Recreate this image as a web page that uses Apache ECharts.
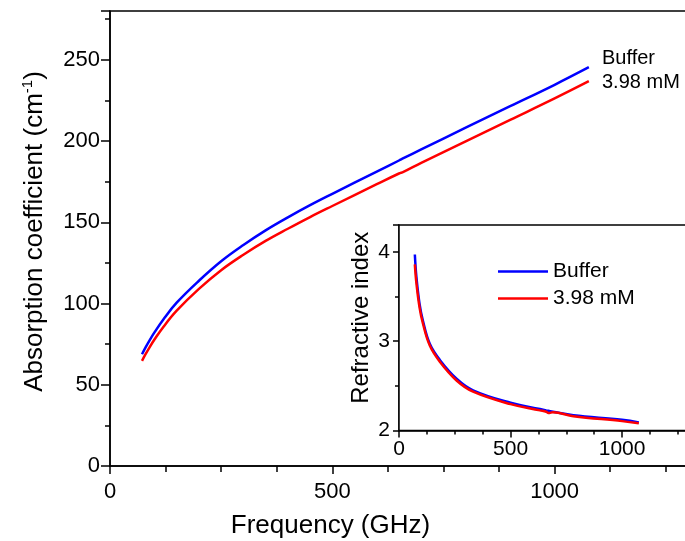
<!DOCTYPE html>
<html>
<head>
<meta charset="utf-8">
<script src="https://cdn.jsdelivr.net/npm/echarts@6/dist/echarts.min.js"></script>
<style>
html,body{margin:0;padding:0;background:#fff;}
#c{width:685px;height:541px;}
</style>
</head>
<body>
<div id="c"></div>
<script>
// ---- Main panel: absorption coefficient (cm^-1) vs frequency (GHz)
var absFreq = [72, 80, 90, 100, 120, 150, 200, 250, 300, 350, 400, 450, 500, 600, 650, 660, 700, 800, 900, 1000, 1077];
var absBuffer = [68.8, 73.0, 77.8, 82.2, 90.2, 100.5, 114.0, 126.0, 136.0, 145.0, 153.0, 160.5, 167.5, 181.2, 188.0, 189.4, 194.8, 208.2, 221.4, 234.6, 245.4];
var absSample = [64.7, 68.8, 73.5, 77.8, 85.6, 95.6, 109.0, 120.5, 130.0, 138.5, 146.0, 153.2, 160.0, 173.4, 180.0, 181.0, 186.6, 199.8, 213.0, 226.2, 236.8];

// ---- Inset: refractive index vs frequency (GHz)
var nFreq = [71, 78, 92, 107, 138, 183, 258, 332, 500, 632, 660, 670, 690, 782, 1000, 1075];
var nBuffer = [3.97, 3.72, 3.42, 3.23, 2.97, 2.79, 2.58, 2.45, 2.31, 2.24, 2.225, 2.22, 2.21, 2.17, 2.12, 2.09];
var nSample = [3.86, 3.65, 3.38, 3.20, 2.95, 2.77, 2.56, 2.435, 2.295, 2.225, 2.21, 2.195, 2.205, 2.16, 2.105, 2.08];

var seriesNames = ['Buffer', '3.98 mM'];
var xTicks = [0, 500, 1000];

function pairs(xs, ys) { return xs.map(function (x, i) { return [x, ys[i]]; }); }

var FONT = 'Liberation Sans, Arial, sans-serif';
var chart = echarts.init(document.getElementById('c'), null, {renderer: 'canvas'});

function axisCommon(extra) {
  var o = {
    axisLine: {show: true, lineStyle: {color: '#000', width: 1.5}},
    axisTick: {show: true, inside: false, length: 8, lineStyle: {color: '#000', width: 1.5}},
    minorTick: {show: true, splitNumber: 2, length: 5, lineStyle: {color: '#000', width: 1.5}},
    splitLine: {show: false},
    axisLabel: {color: '#000', fontFamily: FONT, fontSize: 22}
  };
  for (var k in extra) o[k] = extra[k];
  return o;
}

function lineSeries(name, color, xi, xs, ys, z) {
  return {name: name, type: 'line', xAxisIndex: xi, yAxisIndex: xi, data: pairs(xs, ys),
    showSymbol: false, smooth: 0.4,
    lineStyle: {color: color, width: 2.5}, itemStyle: {color: color}, z: z};
}

var option = {
  animation: false,
  backgroundColor: '#fff',
  grid: [
    {left: 110, top: 11, right: -3, bottom: 75, outerBoundsMode: 'none', containLabel: false,
      show: true, borderColor: '#000', borderWidth: 1.5, backgroundColor: 'transparent', z: 0},
    {left: 399, top: 225, right: -4, bottom: 110.5, outerBoundsMode: 'none', containLabel: false,
      show: true, borderColor: '#000', borderWidth: 1.5, backgroundColor: '#fff', z: 5}
  ],
  xAxis: [
    axisCommon({gridIndex: 0, type: 'value', min: 0, max: 1300, interval: 500,
      minorTick: {show: true, splitNumber: 4, length: 6, lineStyle: {color: '#000', width: 1.5}},
      axisTick: {show: true, length: 8, lineStyle: {color: '#000', width: 1.5}},
      axisLabel: {color: '#000', fontFamily: FONT, fontSize: 22, margin: 15,
        formatter: function (v) { return xTicks.indexOf(v) >= 0 ? String(v) : ''; }},
      name: 'Frequency (GHz)', nameLocation: 'middle', nameGap: 47,
      nameTextStyle: {color: '#000', fontFamily: FONT, fontSize: 26, padding: [0, 137, 0, 0]}
    }),
    axisCommon({gridIndex: 1, type: 'value', min: 0, max: 1300, interval: 500,
      minorTick: {show: true, splitNumber: 4, length: 4, lineStyle: {color: '#000', width: 1.5}},
      axisTick: {show: true, length: 7, lineStyle: {color: '#000', width: 1.5}},
      axisLabel: {color: '#000', fontFamily: FONT, fontSize: 21, margin: 8,
        formatter: function (v) { return xTicks.indexOf(v) >= 0 ? String(v) : ''; }}
    })
  ],
  yAxis: [
    axisCommon({gridIndex: 0, type: 'value', min: 0, max: 280, interval: 50,
      axisTick: {show: true, length: 9, lineStyle: {color: '#000', width: 1.5}},
      axisLabel: {color: '#000', fontFamily: FONT, fontSize: 22, margin: 10,
        formatter: function (v) { return v <= 250 ? String(v) : ''; }},
      name: 'Absorption coefficient (cm{sup|-1})', nameLocation: 'middle', nameGap: 60,
      nameTextStyle: {color: '#000', fontFamily: FONT, fontSize: 26, padding: [0, 0, 0, 14],
        rich: {sup: {fontSize: 15, fontFamily: FONT, color: '#000', verticalAlign: 'top', lineHeight: 30}}}
    }),
    axisCommon({gridIndex: 1, type: 'value', min: 2, max: 4.3, interval: 1,
      axisTick: {show: true, length: 6, lineStyle: {color: '#000', width: 1.5}},
      minorTick: {show: true, splitNumber: 2, length: 4, lineStyle: {color: '#000', width: 1.5}},
      axisLabel: {color: '#000', fontFamily: FONT, fontSize: 21, margin: 9,
        formatter: function (v) { return (v === 2 || v === 3 || v === 4) ? String(v) : ''; }},
      name: 'Refractive index', nameLocation: 'middle', nameGap: 26,
      nameTextStyle: {color: '#000', fontFamily: FONT, fontSize: 24, padding: [0, 0, 0, 20]}
    })
  ],
  legend: {
    data: seriesNames,
    orient: 'vertical',
    left: 498, top: 261, padding: 0,
    icon: 'rect', itemWidth: 50, itemHeight: 2.5, itemGap: 6,
    textStyle: {color: '#000', fontFamily: FONT, fontSize: 21},
    z: 20
  },
  graphic: [
    {type: 'text', left: 602, top: 48, z: 20, style: {text: 'Buffer', fill: '#000', font: '20px ' + FONT}},
    {type: 'text', left: 602, top: 72, z: 20, style: {text: '3.98 mM', fill: '#000', font: '20px ' + FONT}}
  ],
  series: [
    lineSeries(seriesNames[0], '#0000ff', 0, absFreq, absBuffer, 3),
    lineSeries(seriesNames[1], '#ff0000', 0, absFreq, absSample, 3),
    lineSeries(seriesNames[0], '#0000ff', 1, nFreq, nBuffer, 10),
    lineSeries(seriesNames[1], '#ff0000', 1, nFreq, nSample, 10)
  ]
};
chart.setOption(option);
</script>
</body>
</html>
